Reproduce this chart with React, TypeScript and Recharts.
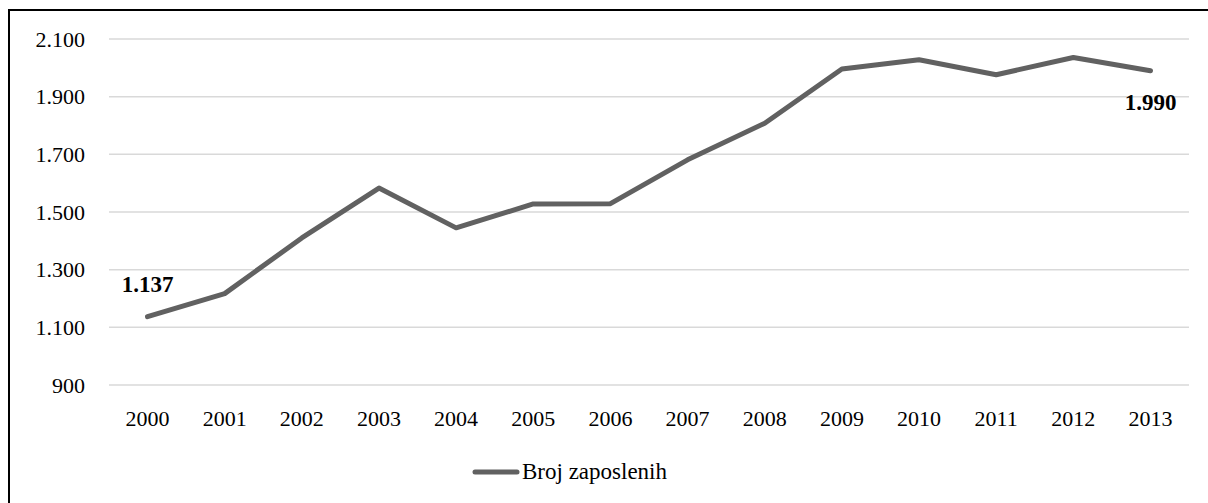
import React from 'react';
import { LineChart, Line, XAxis, YAxis, CartesianGrid, Legend } from 'recharts';

const years = ['2000', '2001', '2002', '2003', '2004', '2005', '2006', '2007', '2008', '2009', '2010', '2011', '2012', '2013'];
const employees = [1137, 1217, 1410, 1583, 1445, 1528, 1529, 1681, 1808, 1996, 2028, 1976, 2036, 1990];
const yTicks = [900, 1100, 1300, 1500, 1700, 1900, 2100];
const seriesName = 'Broj zaposlenih';

const data = years.map((year, i) => ({ year, value: employees[i] }));

const font = 'Liberation Serif, Times New Roman, serif';
const lineColor = '#616161'; // dark grey line
const gridColor = '#d9d9d9';

const fmt = (v: number) => v.toLocaleString('de-DE');

// only the first and last point get a value label
const PointLabel = (props: any) => {
  const { x, y, value, index } = props;
  if (index !== 0 && index !== employees.length - 1) return null;
  const dy = index === 0 ? -32 : 32;
  return (
    <text x={x} y={y + dy} textAnchor="middle" dominantBaseline="central" fontFamily={font} fontSize={23} fontWeight="bold" fill="#000">
      {fmt(value)}
    </text>
  );
};

const LegendContent = () => (
  <div style={{ height: 40, display: 'flex', alignItems: 'center', fontFamily: font, fontSize: 23, color: '#000', whiteSpace: 'nowrap' }}>
    <svg width={48} height={8} style={{ marginRight: 2 }}>
      <line x1={3} y1={4} x2={45} y2={4} stroke={lineColor} strokeWidth={5} strokeLinecap="round" />
    </svg>
    <span>{seriesName}</span>
  </div>
);

const App: React.FC = () => {
  return (
    <div style={{ position: 'fixed', left: 0, top: 0, width: 1208, height: 503, overflow: 'hidden', background: '#fff' }}>
      {/* frame: only top and left edges are visible in the picture */}
      <div style={{ position: 'absolute', left: 8, top: 9, width: 1200, height: 2, background: '#000' }} />
      <div style={{ position: 'absolute', left: 8, top: 9, width: 2, height: 494, background: '#000' }} />
      <div style={{ position: 'absolute', left: 8, top: 8 }}>
        <LineChart width={1200} height={495} data={data} margin={{ top: 31, right: 19, left: 0, bottom: 0 }}>
          <CartesianGrid vertical={false} stroke={gridColor} strokeWidth={1.5} />
          <XAxis
            dataKey="year"
            axisLine={false}
            tickLine={false}
            tickSize={0}
            tickMargin={25}
            height={78}
            interval={0}
            padding={{ left: 38.5, right: 38.5 }}
            tick={{ fontFamily: font, fontSize: 22, fill: '#000' }}
          />
          <YAxis
            domain={[900, 2100]}
            ticks={yTicks}
            axisLine={false}
            tickLine={false}
            tickSize={0}
            tickMargin={24}
            width={101}
            tickFormatter={fmt}
            tick={{ fontFamily: font, fontSize: 22, fill: '#000' }}
          />
          <Legend content={<LegendContent />} wrapperStyle={{ left: 464, top: 444, width: 'auto' }} />
          <Line
            type="linear"
            dataKey="value"
            name={seriesName}
            stroke={lineColor}
            strokeWidth={5}
            strokeLinecap="round"
            strokeLinejoin="round"
            dot={false}
            activeDot={false}
            label={<PointLabel />}
            isAnimationActive={false}
          />
        </LineChart>
      </div>
    </div>
  );
};

export default App;
